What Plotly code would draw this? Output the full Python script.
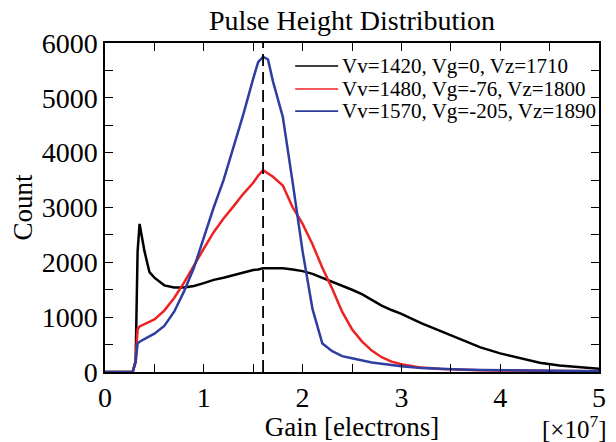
import plotly.graph_objects as go

# Gain in units of 1e7 electrons
gain = [0.0, 0.25, 0.28, 0.31, 0.33, 0.35, 0.40, 0.45, 0.5, 0.6, 0.7, 0.8, 0.9, 1.0, 1.1, 1.2, 1.3,
        1.4, 1.5, 1.55, 1.6, 1.65, 1.7, 1.8, 1.9, 2.0, 2.1, 2.2, 2.3, 2.4, 2.5, 2.6, 2.7, 2.8,
        2.9, 3.0, 3.2, 3.4, 3.6, 3.8, 4.0, 4.2, 4.4, 4.6, 4.8, 5.0]

count_1420 = [0, 0, 0, 200, 2200, 2700, 2200, 1820, 1720, 1580, 1540, 1540, 1570, 1620, 1680, 1720, 1770,
              1820, 1860, 1870, 1890, 1890, 1890, 1890, 1870, 1840, 1790, 1720, 1650, 1580, 1500, 1420, 1310, 1210,
              1130, 1060, 890, 740, 600, 450, 340, 250, 170, 120, 85, 60]

count_1480 = [0, 0, 0, 200, 780, 830, 870, 910, 960, 1120, 1350, 1630, 1950, 2250, 2550, 2800, 3020,
              3250, 3450, 3580, 3680, 3620, 3560, 3400, 3000, 2700, 2330, 1900, 1520, 1100, 780, 560, 390, 270,
              190, 140, 80, 55, 40, 32, 28, 24, 20, 18, 15, 12]

count_1570 = [0, 0, 0, 180, 520, 553, 600, 640, 700, 840, 1100, 1470, 1900, 2450, 3000, 3500, 4100,
              4700, 5350, 5650, 5750, 5700, 5300, 4650, 3450, 2200, 1150, 520, 380, 290, 250, 210, 175, 150,
              125, 105, 75, 55, 45, 35, 30, 25, 22, 20, 18, 15]

series_names = ["Vv=1420, Vg=0, Vz=1710",
                "Vv=1480, Vg=-76, Vz=1800",
                "Vv=1570, Vg=-205, Vz=1890"]
series_colors = ["#000000", "#ee2222", "#2e3da0"]

peak_gain = 1.6
x_ticks = [0, 1, 2, 3, 4, 5]
y_ticks = [0, 1000, 2000, 3000, 4000, 5000, 6000]

SERIF = "Liberation Serif, Times New Roman, serif"

fig = go.Figure()
for name, ys, col in zip(series_names, [count_1420, count_1480, count_1570], series_colors):
    fig.add_trace(go.Scatter(x=gain, y=ys, mode="lines", name=name, showlegend=False,
                             line=dict(color=col, width=2.5)))

fig.add_shape(type="line", xref="x", yref="y", x0=peak_gain, x1=peak_gain, y0=0, y1=6000,
              line=dict(color="black", width=1.8, dash="12px,6px"))

# Legend drawn as paper-anchored entries (compact row spacing like the original)
legend_rows_y = [0.930, 0.860, 0.793]
for name, col, ly in zip(series_names, series_colors, legend_rows_y):
    fig.add_shape(type="line", xref="paper", yref="paper", x0=0.385, x1=0.472, y0=ly, y1=ly,
                  line=dict(color=col, width=1.6))
    fig.add_annotation(text=name, xref="paper", yref="paper", x=0.476, y=ly,
                       xanchor="left", yanchor="middle", showarrow=False,
                       font=dict(family=SERIF, size=21, color="black"))

axis_common = dict(showline=True, linecolor="black", linewidth=1.5, mirror="allticks",
                   ticks="inside", ticklen=8, tickwidth=1.2, tickcolor="black",
                   showgrid=False, zeroline=False, automargin=False,
                   tickfont=dict(family=SERIF, size=28, color="black"))

fig.update_xaxes(range=[0, 5], tickvals=x_ticks, ticktext=[str(v) for v in x_ticks],
                 minor=dict(dtick=0.5, ticks="inside", ticklen=8, tickcolor="black", tickwidth=1.2),
                 title=dict(text="Gain [electrons]", font=dict(family=SERIF, size=27, color="black"),
                            standoff=4),
                 **axis_common)
fig.update_yaxes(range=[0, 6000], tickvals=y_ticks, ticktext=[str(v) for v in y_ticks],
                 minor=dict(dtick=500, ticks="inside", ticklen=8, tickcolor="black", tickwidth=1.2),
                 title=dict(text="Count", font=dict(family=SERIF, size=27, color="black"),
                            standoff=10),
                 **axis_common)

fig.add_annotation(text="[×10<sup>7</sup>]", xref="paper", yref="paper", x=1.02, y=-0.167,
                   xanchor="right", yanchor="middle", showarrow=False,
                   font=dict(family=SERIF, size=25, color="black"))

# the page body adds an 8px offset, so the figure is sized to fill the rest of the window
fig.update_layout(
    width=608, height=434,
    margin=dict(l=97, r=17, t=35, b=70),
    paper_bgcolor="white", plot_bgcolor="white",
    title=dict(text="Pulse Height Distribution", x=0.5, xref="paper", xanchor="center",
               y=0.995, yref="container", yanchor="top",
               font=dict(family=SERIF, size=28, color="black")),
    showlegend=False,
)

fig.write_html("out.html")
